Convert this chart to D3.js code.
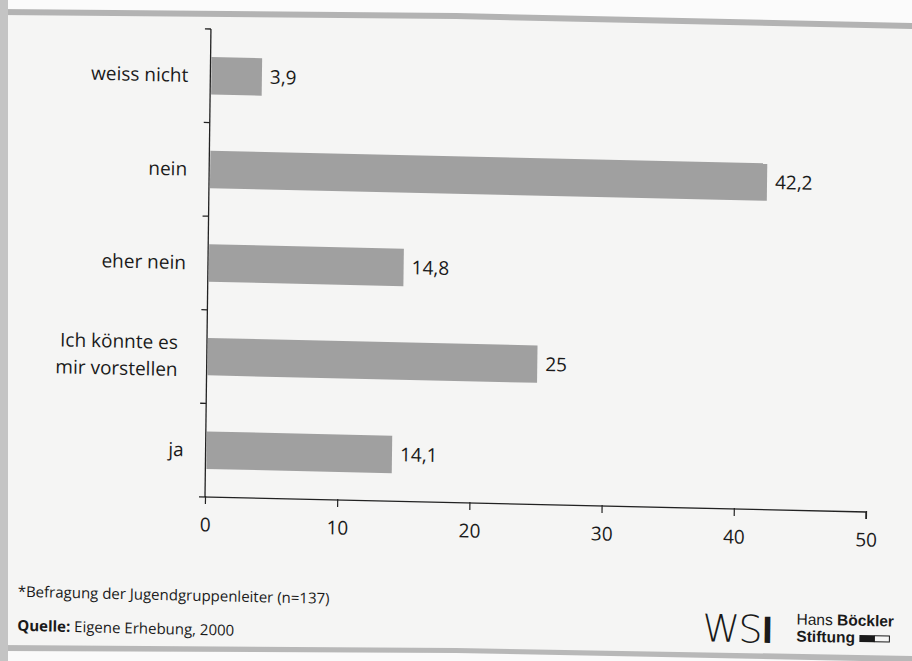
<!DOCTYPE html>
<html>
<head>
<meta charset="utf-8">
<script src="https://cdn.jsdelivr.net/npm/d3@7/dist/d3.min.js"></script>
<style>
  html, body { margin: 0; padding: 0; background: #f6f6f5; }
  svg { display: block; }
</style>
</head>
<body>
<script>
// Survey answers (share in percent), top to bottom
const categories = ["weiss nicht", "nein", "eher nein", "Ich könnte es\nmir vorstellen", "ja"];
const values = [3.9, 42.2, 14.8, 25, 14.1];
const valueLabels = ["3,9", "42,2", "14,8", "25", "14,1"];
const xTicks = [0, 10, 20, 30, 40, 50];
const footnote = "*Befragung der Jugendgruppenleiter (n=137)";
const sourceLabel = "Quelle:";
const sourceText = " Eigene Erhebung, 2000";

const W = 912, H = 661;
const origin = { x: 205, y: 497 };

const svg = d3.select("body").append("svg")
  .attr("width", W).attr("height", H);

// paper
svg.append("rect").attr("width", W).attr("height", H).attr("fill", "#f5f5f4");
svg.append("path").attr("d", "M0,0H912V24L456,14L0,10Z").attr("fill", "#fbfbfb");
svg.append("path").attr("d", "M0,648L456,651L912,660V661H0Z").attr("fill", "#fafafa");

// the printed page is slightly skewed on the scan
const page = svg.append("g")
  .attr("transform", `translate(${origin.x},${origin.y}) matrix(1,0.0227,-0.0127,1,0,0) translate(${-origin.x},${-origin.y})`);

const font = "'Open Sans', 'Noto Sans', sans-serif";

const x = d3.scaleLinear().domain([0, 50]).range([origin.x, 866]);
const y = d3.scaleBand().domain(categories).range([29, origin.y]).paddingInner(0.6).paddingOuter(0.3);

const chart = page.append("g");

// bars
chart.selectAll("rect.bar").data(categories).join("rect")
  .attr("class", "bar")
  .attr("x", x(0) + 1)
  .attr("y", d => y(d))
  .attr("width", (d, i) => x(values[i]) - x(0) - 1)
  .attr("height", y.bandwidth())
  .attr("fill", "#a0a0a0");

// value labels
chart.selectAll("text.val").data(categories).join("text")
  .attr("class", "val")
  .attr("x", (d, i) => x(values[i]) + 8)
  .attr("y", d => y(d) + y.bandwidth() / 2)
  .attr("dy", "0.35em")
  .attr("font-family", font).attr("font-size", 19).attr("fill", "#1a1a1a")
  .text((d, i) => valueLabels[i]);

// vertical axis with ticks at band boundaries
const step = (origin.y - 29) / categories.length;
const yAxis = chart.append("g").attr("stroke", "#222").attr("stroke-width", 1.3);
yAxis.append("line").attr("x1", x(0)).attr("x2", x(0)).attr("y1", 29).attr("y2", origin.y);
yAxis.selectAll("line.tk").data(d3.range(categories.length)).join("line")
  .attr("class", "tk")
  .attr("x1", x(0) - 6).attr("x2", x(0))
  .attr("y1", i => 29 + i * step).attr("y2", i => 29 + i * step);

// category labels
chart.selectAll("text.cat").data(categories).join("text")
  .attr("class", "cat")
  .attr("text-anchor", "end")
  .attr("font-family", font).attr("font-size", 19).attr("fill", "#1a1a1a")
  .each(function (d) {
    const lines = d.split("\n");
    const t = d3.select(this);
    const cx = lines.length > 1 ? x(0) - 29 : x(0) - 22;
    const cy = y(d) + y.bandwidth() / 2;
    lines.forEach((ln, k) => {
      t.append("tspan")
        .attr("x", cx)
        .attr("y", cy + (k - (lines.length - 1) / 2) * 27)
        .attr("dy", "0.35em")
        .text(ln);
    });
  });

// horizontal axis
const xAxis = d3.axisBottom(x).tickValues(xTicks).tickSize(7).tickPadding(14)
  .tickFormat(d3.format("d"));
const gx = chart.append("g").attr("transform", `translate(0, ${origin.y})`).call(xAxis);
gx.select(".domain").attr("stroke", "#222").attr("stroke-width", 1.3).attr("d", `M${x(0) - 6},0H${x(50)}V7`);
gx.selectAll(".tick line").attr("stroke", "#222").attr("stroke-width", 1.2).attr("y1", -1).attr("y2", 7);
gx.selectAll(".tick text").attr("font-family", font).attr("font-size", 19).attr("fill", "#1a1a1a");

// footnote and source
page.append("text").attr("x", 19).attr("y", 601)
  .attr("font-family", font).attr("font-size", 15).attr("fill", "#1a1a1a")
  .text(footnote);
const src = page.append("text").attr("x", 19).attr("y", 635)
  .attr("font-family", font).attr("font-size", 15).attr("fill", "#1a1a1a");
src.append("tspan").attr("font-weight", 700).text(sourceLabel);
src.append("tspan").text(sourceText);

// publisher logos
const wsi = page.append("text").attr("x", 704).attr("y", 630)
  .attr("font-size", 38).attr("fill", "#1a1a1a");
wsi.append("tspan").attr("font-family", "'DejaVu Sans', sans-serif").attr("font-weight", 200)
  .attr("letter-spacing", -1.5).text("WS");
wsi.append("tspan").attr("font-family", "'Liberation Sans', Arial, sans-serif").attr("font-weight", 700)
  .attr("dx", 1).text("I");
const hb = page.append("text").attr("x", 798).attr("y", 611)
  .attr("font-family", "'Liberation Sans', Arial, sans-serif").attr("font-size", 15.5).attr("fill", "#1a1a1a");
hb.append("tspan").text("Hans ");
hb.append("tspan").attr("font-weight", 700).text("Böckler");
page.append("text").attr("x", 798).attr("y", 628)
  .attr("font-family", "'Liberation Sans', Arial, sans-serif").attr("font-size", 15.5)
  .attr("font-weight", 700).attr("fill", "#1a1a1a").text("Stiftung");
page.append("rect").attr("x", 861).attr("y", 620).attr("width", 15).attr("height", 7).attr("fill", "#1a1a1a");
page.append("rect").attr("x", 876).attr("y", 620.5).attr("width", 15).attr("height", 6)
  .attr("fill", "none").attr("stroke", "#1a1a1a").attr("stroke-width", 1);

// frame bands of the page
svg.append("path").attr("d", "M0,9L456,13L912,23V29L456,19L0,15Z").attr("fill", "#b3b3b3");
svg.append("path").attr("d", "M0,645L456,648L912,656V662L456,653L0,651Z").attr("fill", "#b8b8b8");
svg.append("rect").attr("x", 0).attr("y", 0).attr("width", 8).attr("height", H).attr("fill", "#c4c4c4");
</script>
</body>
</html>
